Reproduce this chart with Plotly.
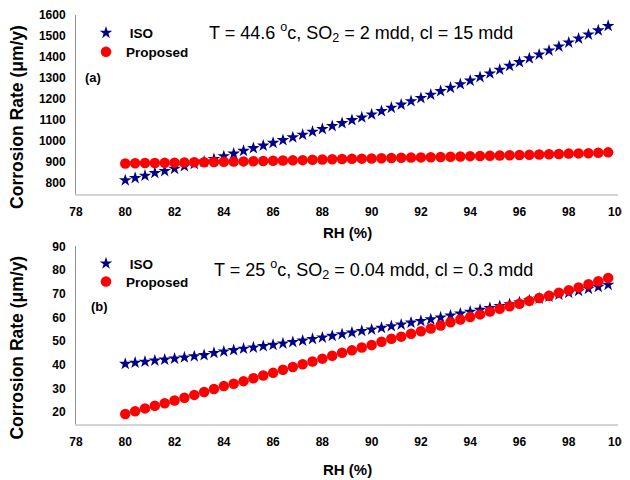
import plotly.graph_objects as go
from plotly.subplots import make_subplots

rh = [80.0, 80.4, 80.8, 81.2, 81.6, 82.0, 82.4, 82.8, 83.2, 83.6,
      84.0, 84.4, 84.8, 85.2, 85.6, 86.0, 86.4, 86.8, 87.2, 87.6,
      88.0, 88.4, 88.8, 89.2, 89.6, 90.0, 90.4, 90.8, 91.2, 91.6,
      92.0, 92.4, 92.8, 93.2, 93.6, 94.0, 94.4, 94.8, 95.2, 95.6,
      96.0, 96.4, 96.8, 97.2, 97.6, 98.0, 98.4, 98.8, 99.2, 99.6]

iso_a = [814, 825, 836, 849, 858, 869, 881, 892, 903, 915,
         928, 941, 954, 967, 979, 992, 1005, 1018, 1031, 1045,
         1058, 1072, 1086, 1100, 1113, 1127, 1143, 1159, 1174, 1190,
         1205, 1221, 1238, 1254, 1271, 1288, 1305, 1322, 1340, 1358,
         1376, 1394, 1412, 1431, 1450, 1469, 1488, 1507, 1527, 1548]

prop_a = [894, 895, 896, 896, 897, 898, 899, 900, 900, 901,
          902, 903, 904, 905, 906, 907, 908, 909, 910, 912,
          913, 914, 915, 916, 917, 918, 919, 920, 921, 922,
          923, 924, 925, 926, 927, 929, 930, 931, 932, 933,
          934, 935, 937, 938, 939, 941, 942, 943, 945, 947]

iso_b = [40.4, 40.9, 41.3, 41.8, 42.2, 42.6, 43.1, 43.6, 44.1, 45.0,
         45.6, 46.2, 46.8, 47.3, 47.9, 48.4, 49.0, 49.6, 50.2, 50.9,
         51.5, 52.2, 52.9, 53.6, 54.3, 54.9, 55.6, 56.3, 57.0, 57.8,
         58.5, 59.2, 60.0, 60.8, 61.6, 62.4, 63.2, 64.0, 64.8, 65.6,
         66.4, 67.2, 68.0, 68.8, 69.6, 70.4, 71.2, 72.1, 72.9, 73.8]

prop_b = [19.2, 20.4, 21.6, 22.7, 23.8, 24.9, 26.1, 27.3, 28.5, 29.8,
          31.0, 32.0, 33.1, 34.3, 35.5, 36.6, 37.9, 39.1, 40.2, 41.4,
          42.6, 43.8, 45.1, 46.1, 47.3, 48.4, 49.7, 51.0, 51.9, 53.1,
          54.2, 55.3, 56.6, 58.0, 59.1, 60.2, 61.3, 62.5, 63.7, 64.7,
          65.8, 67.0, 68.2, 69.2, 70.4, 71.5, 72.7, 74.0, 75.3, 76.7]

x_ticks = [78, 80, 82, 84, 86, 88, 90, 92, 94, 96, 98, 100]
y_ticks_a = [800, 900, 1000, 1100, 1200, 1300, 1400, 1500, 1600]
y_ticks_b = [20, 30, 40, 50, 60, 70, 80, 90]

NAVY = "#00008B"
RED = "#FF0000"
FONT = "Liberation Sans, Arial, sans-serif"

# the page body adds an 8px offset; work in target-pixel coordinates and compensate
OFF = 8
W, Hfig = 630 - OFF, 480 - OFF
L, R, T, B = 76 - OFF, 12, 15 - OFF, 55.5

fig = make_subplots(rows=2, cols=1, vertical_spacing=0.1)

fig.add_trace(go.Scatter(x=rh, y=iso_a, mode="markers", name=" ISO",
                         marker=dict(symbol="star", size=9.5, color=NAVY),
                         legend="legend", showlegend=True), row=1, col=1)
fig.add_trace(go.Scatter(x=rh, y=prop_a, mode="markers", name="Proposed",
                         marker=dict(symbol="circle", size=10.5, color=RED),
                         legend="legend2", showlegend=True), row=1, col=1)
fig.add_trace(go.Scatter(x=rh, y=iso_b, mode="markers", name=" ISO",
                         marker=dict(symbol="star", size=9.5, color=NAVY),
                         legend="legend3", showlegend=True), row=2, col=1)
fig.add_trace(go.Scatter(x=rh, y=prop_b, mode="markers", name="Proposed",
                         marker=dict(symbol="circle", size=10.5, color=RED),
                         legend="legend4", showlegend=True), row=2, col=1)

H = 424.5 - 15
top_lo = (424.5 - 194) / H
bot_hi = (424.5 - 246.7) / H

tickfont = dict(family=FONT, size=12, color="#000000", weight="bold")
xcommon = dict(range=[78, 100], tickvals=x_ticks, showgrid=False, zeroline=False,
               showline=True, linecolor="#d4d4d4", linewidth=1.5, ticks="",
               tickfont=tickfont, ticklabelstandoff=6, automargin=False)
ycommon = dict(showgrid=False, zeroline=False, showline=True, linecolor="#909090",
               linewidth=1, ticks="", tickfont=tickfont, ticklabelstandoff=7,
               automargin=False)

fig.update_xaxes(**xcommon, row=1, col=1)
fig.update_xaxes(**xcommon, row=2, col=1)
fig.update_yaxes(**ycommon, range=[750, 1600], tickvals=y_ticks_a, row=1, col=1)
fig.update_yaxes(**ycommon, range=[15, 90], tickvals=y_ticks_b, row=2, col=1)
fig.update_layout(yaxis=dict(domain=[top_lo, 1]), yaxis2=dict(domain=[0, bot_hi]))


def px_x(p):
    return (p - 76) / (630 - 76 - 12)


def px_y(p):
    return (424.5 - p) / H


legfont = dict(family=FONT, size=13.5, color="#000000", weight="bold")


def leg(xp, yp):
    return dict(x=px_x(xp), y=px_y(yp), xref="paper", yref="paper", xanchor="left",
                yanchor="middle", font=legfont, bgcolor="rgba(0,0,0,0)", itemwidth=30)


fig.update_layout(
    width=W, height=Hfig,
    margin=dict(l=L, r=R, t=T, b=B),
    paper_bgcolor="white", plot_bgcolor="white",
    font=dict(family=FONT, color="#000000"),
    showlegend=True,
    legend=leg(86, 33),
    legend2=leg(86, 52),
    legend3=leg(86, 264),
    legend4=leg(86, 282),
)

ann = []
ann.append(dict(text="T = 44.6 <sup>o</sup>c, SO<sub>2</sub> = 2 mdd, cl = 15 mdd",
                x=px_x(207), y=px_y(33), xanchor="left", yanchor="middle",
                font=dict(family=FONT, size=18, color="#000000")))
ann.append(dict(text="T = 25 <sup>o</sup>c, SO<sub>2</sub> = 0.04 mdd, cl = 0.3 mdd",
                x=px_x(212), y=px_y(270), xanchor="left", yanchor="middle",
                font=dict(family=FONT, size=18, color="#000000")))
ann.append(dict(text="(a)", x=px_x(83), y=px_y(78), xanchor="left", yanchor="middle",
                font=dict(family=FONT, size=13, color="#000000", weight="bold")))
ann.append(dict(text="(b)", x=px_x(89), y=px_y(307), xanchor="left", yanchor="middle",
                font=dict(family=FONT, size=13, color="#000000", weight="bold")))
for yc in (117, 348):
    ann.append(dict(text="Corrosion Rate (μm/y)", x=px_x(17), y=px_y(yc), textangle=-90,
                    xanchor="center", yanchor="middle",
                    font=dict(family=FONT, size=17.5, color="#000000", weight="bold")))
for yc in (233, 470):
    ann.append(dict(text="RH (%)", x=px_x(347), y=px_y(yc), xanchor="center", yanchor="middle",
                    font=dict(family=FONT, size=15, color="#000000", weight="bold")))
for a in ann:
    a.update(xref="paper", yref="paper", showarrow=False)
fig.update_layout(annotations=ann)

fig.write_html("out.html")
